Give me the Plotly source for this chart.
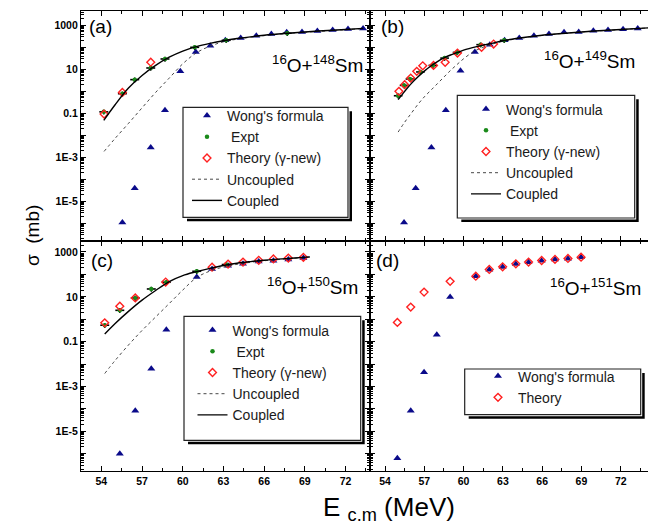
import plotly.graph_objects as go

# ---------------- data (E in MeV, sigma in mb) ----------------
# (a) 16O+148Sm
a_wong_x = [55.55, 56.46, 57.64, 58.69, 59.82, 60.96, 62.03, 63.14, 64.27, 65.42, 66.53, 67.66, 68.79, 69.92, 71.05, 72.18, 73.29]
a_wong_y = [1.1e-6, 4.0e-5, 2.8e-3, 0.14, 8.1, 62, 117, 209, 263, 339, 398, 479, 501, 550, 617, 676, 724]
a_expt_x = [54.18, 55.55, 56.46, 57.64, 58.69, 60.88, 63.2, 67.7]
a_expt_y = [0.117, 0.78, 3.4, 11.5, 29.5, 100, 209, 437]
a_theo_x = [54.2, 55.55, 57.64]
a_theo_y = [0.093, 0.89, 21]
a_coup_x = [54.18, 55, 56, 57, 58, 59, 60, 61, 62, 63, 64, 66, 68, 70, 72, 73.3]
a_coup_y = [0.048, 0.24, 1.41, 5.25, 15.1, 35.5, 67.6, 107, 151, 200, 251, 355, 447, 550, 646, 724]
a_unc_x = [54.2, 55, 56, 57, 58, 59, 60, 61, 62, 63, 64, 66, 68, 70, 72, 73.3]
a_unc_y = [1.86e-3, 7.1e-3, 0.035, 0.178, 0.89, 3.98, 17.8, 56, 112, 178, 234, 339, 437, 525, 631, 708]

# (b) 16O+149Sm
b_wong_x = [55.45, 56.34, 57.54, 58.64, 59.76, 60.86, 62.0, 63.13, 64.25, 65.37, 66.52, 67.67, 68.79, 69.91, 71.03, 72.18, 73.3, 74.43]
b_wong_y = [1.1e-6, 4.0e-5, 2.8e-3, 0.138, 8.7, 62, 132, 209, 263, 339, 398, 479, 501, 562, 617, 661, 724, 759]
b_expt_x = [55.0, 55.45, 55.9, 56.7, 57.65, 58.55, 59.5, 61.3, 63.1]
b_expt_y = [0.63, 1.86, 3.63, 7.6, 15.1, 32.4, 58.9, 132, 209]
b_theo_x = [55.06, 55.5, 55.96, 56.42, 56.88, 57.7, 58.59, 59.53, 61.37, 62.29]
b_theo_y = [1.0, 2.0, 4.0, 8.1, 14.5, 15.1, 20.9, 55, 100, 141]
b_coup_x = [55.0, 55.5, 56, 56.5, 57, 57.5, 58, 58.5, 59, 59.5, 60, 61, 62, 63, 64, 66, 68, 70, 72, 74.6]
b_coup_y = [0.42, 1.0, 2.24, 4.47, 8.3, 14.1, 22.4, 33.1, 44.7, 57.5, 74.1, 107, 145, 200, 251, 355, 447, 550, 646, 794]
b_unc_x = [55.0, 55.5, 56, 56.5, 57, 57.5, 58, 58.5, 59, 59.5, 60, 60.8, 61.5, 62.5, 63.5, 65, 67, 69, 71, 73, 74.6]
b_unc_y = [0.0141, 0.0398, 0.1, 0.251, 0.562, 1.12, 2.24, 4.47, 8.9, 16.6, 30.2, 66, 100, 158, 214, 295, 398, 501, 589, 692, 794]

# (c) 16O+150Sm
c_wong_x = [55.36, 56.5, 57.68, 58.79, 61.03, 62.16, 63.34, 64.44, 65.6, 66.68, 67.78, 68.89]
c_wong_y = [1.0e-6, 8.3e-5, 6.2e-3, 0.34, 76, 174, 245, 302, 380, 407, 468, 537]
c_expt_x = [54.25, 55.36, 56.5, 57.68, 58.79, 61.03, 63.2]
c_expt_y = [0.54, 2.5, 8.9, 22.4, 44.7, 138, 275]
c_theo_x = [54.25, 55.36, 56.5, 58.74, 62.16, 63.34, 64.44, 65.6, 66.68, 67.78, 68.89]
c_theo_y = [0.69, 3.8, 8.9, 45.7, 209, 288, 355, 427, 490, 537, 575]
c_coup_x = [54.25, 55, 56, 57, 58, 59, 60, 61, 62, 63, 64, 65, 66, 67, 68, 69.36]
c_coup_y = [0.219, 0.63, 2.24, 7.1, 19.1, 47.9, 89, 132, 186, 251, 316, 372, 427, 479, 525, 603]
c_unc_x = [54.25, 55, 56, 57, 58, 59, 60, 61, 62, 63, 64, 65, 66, 67, 68, 69.36]
c_unc_y = [3.8e-3, 0.0141, 0.0708, 0.316, 1.26, 5.0, 20, 71, 141, 214, 282, 347, 407, 457, 513, 589]

# (d) 16O+151Sm
d_wong_x = [54.94, 55.96, 56.98, 57.95, 58.97, 60.93, 61.96, 62.98, 63.99, 64.96, 65.96, 66.98, 67.97, 68.97]
d_wong_y = [6.3e-7, 8.3e-5, 4.3e-3, 0.204, 9.8, 83, 162, 214, 288, 347, 407, 457, 501, 575]
d_theo_x = [54.94, 55.96, 56.98, 58.97, 60.93, 61.96, 62.98, 63.99, 64.96, 65.96, 66.98, 67.97, 68.97]
d_theo_y = [0.72, 3.5, 16.2, 49, 83, 166, 219, 295, 355, 417, 468, 513, 589]

reactions = ["<sup>16</sup>O+<sup>148</sup>Sm", "<sup>16</sup>O+<sup>149</sup>Sm",
             "<sup>16</sup>O+<sup>150</sup>Sm", "<sup>16</sup>O+<sup>151</sup>Sm"]
panel_tags = ["(a)", "(b)", "(c)", "(d)"]
y_tick_vals = [1e-6, 1e-5, 1e-4, 1e-3, 1e-2, 1e-1, 1, 10, 100, 1000]
y_tick_text = ["", "1E-5", "", "1E-3", "", "0.1", "", "10", "", "1000"]

# ---------------- style ----------------
FONT = "Liberation Sans, Arial, sans-serif"
NAVY = "#0a0a8a"
GREEN = "#1a8a1a"
RED = "#ff2020"

W, H = 656, 532
ML, MR, MT, MB = 73, 4, 3, 69
PW, PH = W - ML - MR, H - MT - MB
def px(x):
    return (x - ML) / PW
def py(y):
    return (H - MB - y) / PH

XSPLIT = px(362)

fig = go.Figure()

def wong(x, y, ax, leg):
    fig.add_trace(go.Scatter(x=x, y=y, mode="markers", name="Wong's formula",
                             marker=dict(symbol="triangle-up", size=7, color=NAVY),
                             xaxis=ax[0], yaxis=ax[1], legend=leg))

def expt(x, y, ax, leg):
    fig.add_trace(go.Scatter(x=x, y=y, mode="markers", name=" Expt",
                             marker=dict(symbol="circle", size=4.5, color=GREEN),
                             error_x=dict(type="constant", value=0.33, color="black", thickness=1.6, width=0),
                             error_y=dict(type="percent", value=25, color="black", thickness=1.4, width=0),
                             xaxis=ax[0], yaxis=ax[1], legend=leg))

def theo(x, y, ax, leg, name="Theory (γ-new)"):
    fig.add_trace(go.Scatter(x=x, y=y, mode="markers", name=name,
                             marker=dict(symbol="diamond-open", size=6, color=RED, line=dict(width=1.4, color=RED)),
                             xaxis=ax[0], yaxis=ax[1], legend=leg))

def lines(ux, uy, cx, cy, ax, leg):
    fig.add_trace(go.Scatter(x=ux, y=uy, mode="lines", name="Uncoupled",
                             line=dict(color="#333333", width=0.9, dash="dot", shape="spline"),
                             xaxis=ax[0], yaxis=ax[1], legend=leg))
    fig.add_trace(go.Scatter(x=cx, y=cy, mode="lines", name="Coupled",
                             line=dict(color="black", width=1.4, shape="spline"),
                             xaxis=ax[0], yaxis=ax[1], legend=leg))

A = ("x", "y"); B = ("x2", "y2"); C = ("x3", "y3"); D = ("x4", "y4")
wong(a_wong_x, a_wong_y, A, "legend")
expt(a_expt_x, a_expt_y, A, "legend")
theo(a_theo_x, a_theo_y, A, "legend")
lines(a_unc_x, a_unc_y, a_coup_x, a_coup_y, A, "legend")

wong(b_wong_x, b_wong_y, B, "legend2")
expt(b_expt_x, b_expt_y, B, "legend2")
theo(b_theo_x, b_theo_y, B, "legend2")
lines(b_unc_x, b_unc_y, b_coup_x, b_coup_y, B, "legend2")

wong(c_wong_x, c_wong_y, C, "legend3")
expt(c_expt_x, c_expt_y, C, "legend3")
theo(c_theo_x, c_theo_y, C, "legend3")
lines(c_unc_x, c_unc_y, c_coup_x, c_coup_y, C, "legend3")

wong(d_wong_x, d_wong_y, D, "legend4")
theo(d_theo_x, d_theo_y, D, "legend4", name="Theory")

tickfont = dict(family=FONT, size=10.5, color="black", weight="bold")
minor_y = [k * 10.0 ** n for n in range(-7, 4) for k in range(2, 10)]

def xaxis(domain, rng, anchor, labels):
    return dict(domain=domain, range=rng, anchor=anchor, showline=True, linecolor="black",
                linewidth=1.2, mirror="allticks", ticks="inside", ticklen=5, tickwidth=1,
                tickcolor="black", tickmode="linear", tick0=54, dtick=3,
                showticklabels=labels, tickfont=tickfont, showgrid=False, zeroline=False,
                minor=dict(ticks="inside", ticklen=3, tickwidth=1, tickcolor="black",
                           tickmode="linear", tick0=54, dtick=1.5, showgrid=False))

def yaxis(domain, rng, anchor, labels):
    return dict(domain=domain, range=rng, anchor=anchor, type="log", showline=True,
                linecolor="black", linewidth=1.2, mirror="allticks", ticks="inside",
                ticklen=5, tickwidth=1, tickcolor="black", tickmode="array",
                tickvals=y_tick_vals, ticktext=y_tick_text, showticklabels=labels,
                tickfont=tickfont, showgrid=False, zeroline=False,
                minor=dict(ticks="inside", ticklen=3, tickwidth=0.8, tickcolor="black",
                           tickmode="array", tickvals=minor_y, showgrid=False))

TOP = [0.5, 1.0]; BOT = [0.0, 0.5]
L = [0.0, XSPLIT]; R = [XSPLIT, 1.0]
RL = [52.5, 73.8]; RR = [52.85, 75.0]
YT = [-6.8, 3.65]; YB = [-6.77, 3.49]

legfont = dict(family=FONT, size=14, color="#1a1a1a")
def legend(xp, yp):
    return dict(x=px(xp), y=py(yp), xref="paper", yref="paper", xanchor="left", yanchor="top",
                bgcolor="rgba(0,0,0,0)", borderwidth=0, font=legfont, itemsizing="trace",
                tracegroupgap=0)

shapes = []
def box(x0, y0, x1, y1):
    shapes.append(dict(type="rect", xref="paper", yref="paper", x0=px(x0 + 4), x1=px(x1 + 4),
                       y0=py(y1 + 4), y1=py(y0 + 4), fillcolor="black", line=dict(width=0), layer="above"))
    shapes.append(dict(type="rect", xref="paper", yref="paper", x0=px(x0), x1=px(x1 + 1.5),
                       y0=py(y1 + 1.5), y1=py(y0), fillcolor="white", line=dict(width=0), layer="above"))
    shapes.append(dict(type="rect", xref="paper", yref="paper", x0=px(x0), x1=px(x1),
                       y0=py(y1), y1=py(y0), fillcolor="white", line=dict(width=1.2, color="#222"), layer="above"))

box(175, 99.3, 340, 209.3)
box(449.3, 87.3, 626.7, 210)
box(176, 308.3, 352.7, 432.3)
box(456.7, 361, 632.7, 406.7)

annotations = []
tag_pos = [(79, 18.3), (370.5, 18.3), (80.5, 252), (365.5, 252)]
for t, (xx, yy) in zip(panel_tags, tag_pos):
    annotations.append(dict(text=t, x=px(xx), y=py(yy), xref="paper", yref="paper",
                            xanchor="left", yanchor="middle", showarrow=False,
                            font=dict(family=FONT, size=19, color="black")))
re_pos = [(357, 56), (629.3, 52.5), (351.7, 278.3), (635, 279)]
for t, (xx, yy) in zip(reactions, re_pos):
    annotations.append(dict(text=t, x=px(xx), y=py(yy), xref="paper", yref="paper",
                            xanchor="right", yanchor="middle", showarrow=False,
                            font=dict(family=FONT, size=19, color="black")))
annotations.append(dict(text="σ  (mb)", x=px(25), y=py(228), xref="paper", yref="paper",
                        xanchor="center", yanchor="middle", textangle=-90, showarrow=False,
                        font=dict(family=FONT, size=19, color="black")))
annotations.append(dict(text="E <sub>c.m</sub> (MeV)", x=px(381), y=py(482), xref="paper", yref="paper",
                        xanchor="center", yanchor="top", showarrow=False,
                        font=dict(family=FONT, size=26, color="black")))

fig.update_layout(
    width=W, height=H, margin=dict(l=ML, r=MR, t=MT, b=MB),
    paper_bgcolor="white", plot_bgcolor="white",
    font=dict(family=FONT, color="black"),
    xaxis=xaxis(L, RL, "y", False), yaxis=yaxis(TOP, YT, "x", True),
    xaxis2=xaxis(R, RR, "y2", False), yaxis2=yaxis(TOP, YT, "x2", False),
    xaxis3=xaxis(L, RL, "y3", True), yaxis3=yaxis(BOT, YB, "x3", True),
    xaxis4=xaxis(R, RR, "y4", True), yaxis4=yaxis(BOT, YB, "x4", False),
    legend=legend(179, 92), legend2=legend(458, 85.5),
    legend3=legend(184.5, 306.5), legend4=legend(470, 352.5),
    shapes=shapes, annotations=annotations, showlegend=True,
)

fig.write_html("out.html")
